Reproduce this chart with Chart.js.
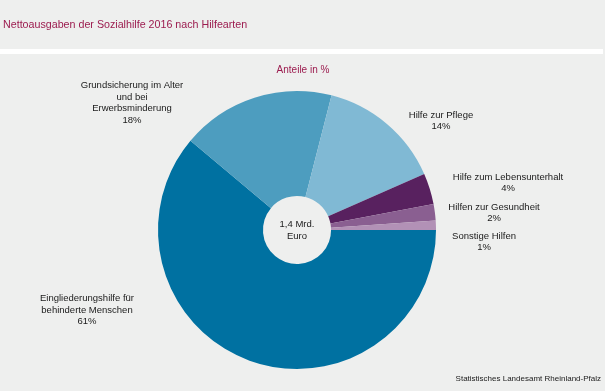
<!DOCTYPE html>
<html>
<head>
<meta charset="utf-8">
<script src="https://cdn.jsdelivr.net/npm/chart.js@4"></script>
<style>
  html, body { margin: 0; padding: 0; background: #eeefee; }
  canvas { display: block; }
</style>
</head>
<body>
<canvas id="myChart" width="605" height="391"></canvas>
<script>
// data
const categories = [
    ['Eingliederungshilfe für', 'behinderte Menschen'],
    ['Grundsicherung im Alter', 'und bei', 'Erwerbsminderung'],
    ['Hilfe zur Pflege'],
    ['Hilfe zum Lebensunterhalt'],
    ['Hilfen zur Gesundheit'],
    ['Sonstige Hilfen']
];
const shares = [61.1, 17.9, 14.4, 3.6, 1.9, 1.1];
const sliceColors = ['#0071a1', '#4d9dbf', '#80b9d4', '#58215f', '#8a5f91', '#b291b6'];
const titleText = 'Nettoausgaben der Sozialhilfe 2016 nach Hilfearten';
const subtitleText = 'Anteile in %';
const centerText = ['1,4 Mrd.', 'Euro'];
const sourceText = 'Statistisches Landesamt Rheinland-Pfalz';

// label block centres relative to pie centre
const labelOffsets = [[-210, 80], [-165, -127], [144, -109], [211, -47], [197, -17], [187, 12]];

const FONT = '"Liberation Sans", Arial, sans-serif';

const decorPlugin = {
    id: 'decor',
    beforeDraw(chart) {
        const ctx = chart.ctx;
        ctx.save();
        ctx.fillStyle = '#eeefee';
        ctx.fillRect(0, 0, chart.width, chart.height);
        ctx.fillStyle = '#ffffff';
        ctx.fillRect(0, 49, 603, 5);
        ctx.fillStyle = '#9c1c4f';
        ctx.textBaseline = 'middle';
        ctx.textAlign = 'left';
        ctx.font = '10.7px ' + FONT;
        ctx.fillText(titleText, 3, 25);
        ctx.textAlign = 'center';
        ctx.font = '10px ' + FONT;
        ctx.fillText(subtitleText, 303, 70);
        ctx.restore();
    },
    afterDraw(chart) {
        const ctx = chart.ctx;
        const arc = chart.getDatasetMeta(0).data[0];
        const cx = arc.x, cy = arc.y;
        ctx.save();
        ctx.fillStyle = '#1a1a1a';
        ctx.textAlign = 'center';
        ctx.textBaseline = 'middle';
        ctx.font = '9.5px ' + FONT;
        const lh = 11.5;
        categories.forEach((lines, i) => {
            const all = lines.concat([Math.round(shares[i]) + '%']);
            const x = cx + labelOffsets[i][0];
            const y0 = cy + labelOffsets[i][1] - (all.length - 1) * lh / 2;
            all.forEach((t, j) => ctx.fillText(t, x, y0 + j * lh));
        });
        ctx.fillText(centerText[0], cx, cy - 6);
        ctx.fillText(centerText[1], cx, cy + 6);
        ctx.textAlign = 'right';
        ctx.font = '8px ' + FONT;
        ctx.fillText(sourceText, 601, 379);
        ctx.restore();
    }
};

new Chart(document.getElementById('myChart'), {
    type: 'doughnut',
    data: {
        labels: categories.map(c => c.join(' ')),
        datasets: [{
            data: shares,
            backgroundColor: sliceColors,
            borderWidth: 0
        }]
    },
    options: {
        responsive: false,
        animation: false,
        rotation: 90,
        cutout: '24.5%',
        layout: { padding: { top: 91, bottom: 22, left: 0, right: 11 } },
        plugins: {
            legend: { display: false },
            tooltip: { enabled: false }
        }
    },
    plugins: [decorPlugin]
});
</script>
</body>
</html>
